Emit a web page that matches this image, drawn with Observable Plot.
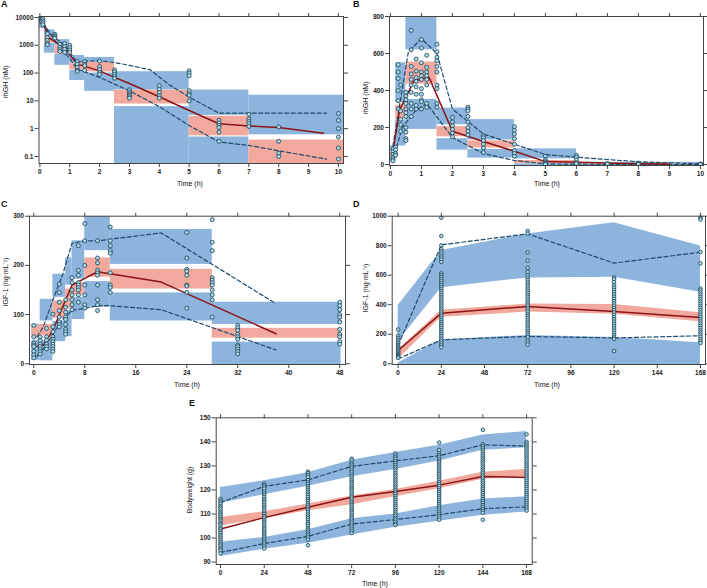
<!DOCTYPE html>
<html><head><meta charset="utf-8">
<script src="https://cdn.jsdelivr.net/npm/d3@7"></script>
<script src="https://cdn.jsdelivr.net/npm/@observablehq/plot@0.6"></script>
<style>
body{margin:0;background:#fff;}
#root{position:relative;width:707px;height:588px;overflow:hidden;font-family:"Liberation Sans",Arial,sans-serif;color:#111;}
.t{position:absolute;font-size:7px;white-space:nowrap;transform:translate(-50%,-50%);}
.r{transform:translate(-50%,-50%) rotate(-90deg);}
.lab{position:absolute;font-size:9px;font-weight:bold;}
</style></head><body><div id="root"></div>
<script>
// ---------- Panel A (rhGH, log) ----------
const aBinStart = [-0.03, 0.15, 0.5, 1.0, 1.5, 2.5, 5, 7];
const aBinEnd   = [0.15, 0.5, 1.0, 1.5, 2.5, 5, 7, 10.17];
const aUb  = [[7500, 11000], [2200, 3600], [1000, 1600], [230, 430], [245, 365], [24.5, 112], [3, 24.5], [0.6, 16]];
const aMed = [[5500, 7500], [1200, 2200], [480, 960], [130, 220], [110, 240], [7.7, 24], [0.55, 2.8], [0.01, 0.39]];
const aLb  = [[4000, 5400], [520, 1150], [190, 470], [54, 125], [22, 100], [0.01, 6.2], [0.01, 0.5], [0.001, 0.002]];
const aP50T = [0.05, 0.3, 0.8, 1.25, 2, 2.5, 3, 4, 5, 6, 7, 8, 9.5];
const aP50V = [8500, 1900, 830, 210, 120, 70, 42, 14, 4.5, 1.5, 1.25, 1.1, 0.68];
const aP95T = [0.05, 0.3, 0.8, 1.25, 1.5, 2, 2.5, 3, 3.7, 4.3, 5, 6, 9.6];
const aP95V = [9500, 2600, 1100, 240, 270, 275, 240, 190, 130, 40, 13.7, 3.6, 3.6];
const aP05T = [0.1, 0.5, 1.0, 1.25, 2, 2.5, 3, 4, 5, 6, 7, 8, 9.6];
const aP05V = [6500, 1500, 330, 140, 70, 40, 23, 6.2, 1.3, 0.33, 0.25, 0.16, 0.08];
const aObsTime = [0.05, 0.1, 0.25, 0.5, 0.67, 0.83, 1, 1.25, 1.5, 2, 2.5, 3, 4, 5, 6, 7, 8, 10];
const aObsVals = [
  [9500, 8800, 8000, 7200], [9000, 7500, 6500, 5500], [2600, 1900, 1500, 1200, 1050],
  [2500, 2200, 2000, 1800], [1100, 850, 700, 600], [1150, 900, 720, 560], [1000, 820, 680, 560],
  [260, 210, 160, 125, 115], [260, 210, 185, 125], [270, 170, 135, 105, 90], [130, 110, 90, 75, 65],
  [25, 21, 18, 16, 14, 12.5], [35, 26, 20, 15, 12.5], [120, 100, 80, 23, 18, 16, 10],
  [2, 1.6, 1.3, 1.1, 0.75, 0.35], [3.3, 2.2, 1.8, 1.5, 1.2], [1.15, 0.35, 0.13, 0.1], [3.5, 2, 1, 0.5, 0.2, 0.08]
];
const aYTicks = [0.1, 1, 10, 100, 1000, 10000];
const aXTicks = [0, 1, 2, 3, 4, 5, 6, 7, 8, 9, 10];

// ---------- Panel B (rhGH, linear) ----------
const bBinStart = [-0.03, 0.17, 0.5, 1.5, 2.5, 4, 6];
const bBinEnd   = [0.17, 0.5, 1.5, 2.5, 4, 6, 10.1];
const bUb  = [[70, 100], [335, 550], [620, 800], [215, 305], [133, 243], [31, 85], [4, 12]];
const bMed = [[40, 65], [245, 320], [435, 554], [150, 205], [90, 128], [5, 22], [0.5, 3]];
const bLb  = [[15, 38], [100, 240], [190, 352], [78, 140], [35, 82], [-5, 4], [-5, 0]];
const bP50T = [0.08, 0.3, 0.58, 0.75, 1.05, 1.25, 2, 3, 4, 5, 6, 7, 8, 9];
const bP50V = [70, 298, 390, 450, 465, 470, 180, 125, 72, 16, 13, 8, 5, 3];
const bP95T = [0.08, 0.58, 1.0, 1.25, 1.5, 2, 3, 4, 5, 6, 8, 10];
const bP95V = [100, 610, 680, 640, 600, 300, 165, 110, 54, 40, 15, 4];
const bP05T = [0.08, 0.38, 0.8, 1.17, 2, 3, 4, 5, 6, 8, 10];
const bP05V = [25, 200, 290, 330, 146, 60, 22, 4, 2, 1, 0];
const bObsTime = [0.083, 0.167, 0.25, 0.33, 0.5, 0.67, 0.83, 1, 1.17, 1.5, 2, 2.5, 3, 4, 5, 6, 7, 8, 10];
const bObsVals = [
  [85, 70, 55, 40, 30, 20], [95, 80, 60, 50], [540, 500, 465, 400, 345, 300], [430, 290, 245, 215, 180],
  [390, 370, 350, 330, 300, 280, 260, 200, 175, 140, 130], [725, 620, 530, 490, 460, 430, 390, 330, 300, 260],
  [570, 505, 470, 450, 420, 380, 320, 300], [675, 630, 550, 500, 480, 460, 410, 380, 350, 340, 300],
  [590, 525, 500, 480, 460, 430, 330, 310], [650, 610, 580, 560, 530, 500, 430, 410, 330, 310],
  [255, 230, 210, 190, 170, 150], [310, 300, 290, 260, 230, 200, 180, 160], [155, 145, 130, 110, 90, 65],
  [205, 185, 165, 140, 110, 75, 60, 45], [45, 25, 15, 10, 5, 2], [50, 40, 25, 10, 5], [6, 3], [8, 5, 2], [3, 1]
];
const bYTicks = [0, 200, 400, 600, 800];
const bXTicks = [0, 1, 2, 3, 4, 5, 6, 7, 8, 9, 10];

// ---------- Panel C (IGF-1, 48 h) ----------
const cBinStart = [-0.3, 1, 3, 5, 6, 8, 12, 28];
const cBinEnd   = [1, 3, 5, 6, 8, 12, 28, 48.2];
const cUb  = [[60, 80], [87, 131], [135, 182], [160, 215], [172, 250], [230, 300], [202, 273], [80, 125]];
const cMed = [[52, 78], [57, 80], [92, 128], [112, 152], [140, 165], [176, 215], [152, 192], [52, 72]];
const cLb  = [[7, 48], [6, 47], [45, 86], [55, 108], [90, 135], [115, 167], [87, 144], [-2, 44]];
const cP50T = [0.5, 1.5, 3, 4.5, 6, 10, 20, 38];
const cP50V = [35, 38, 68, 115, 160, 187, 166, 61];
const cP95T = [0.5, 1.5, 3, 4.5, 6, 8, 10, 20, 38];
const cP95V = [55, 75, 130, 180, 245, 250, 250, 266, 122];
const cP05T = [0.5, 1.5, 3, 4.5, 6, 10, 12, 20, 38];
const cP05V = [15, 30, 60, 90, 108, 118, 118, 110, 28];
const cObsTime = [0, 1, 2, 3, 4, 5, 6, 7, 8, 10, 12, 24, 28, 32, 48];
const cObsVals = [
  [78, 55, 42, 38, 35, 25, 18, 12], [54, 47, 40, 35, 30, 25, 20], [72, 55, 48, 40, 35, 30],
  [101, 75, 65, 55, 50, 45, 40, 35, 30, 25], [162, 145, 125, 108, 95, 85, 80, 75],
  [130, 115, 105, 95, 90, 80, 70, 65, 60], [175, 165, 150, 140, 130, 120, 110],
  [240, 190, 180, 165, 160, 155, 150, 140, 125], [285, 250, 200, 160, 140, 120, 113],
  [250, 215, 205, 190, 185, 180, 160, 130, 120, 108], [278, 250, 240, 230, 225, 185, 160, 155, 145],
  [267, 215, 192, 188, 180, 160, 158, 145, 113], [293, 247, 230, 175, 170, 165, 160, 150, 140, 130, 95],
  [78, 73, 68, 60, 55, 50, 38, 35, 30, 25, 20], [125, 118, 110, 100, 95, 85, 70, 60, 55, 45, 40]
];
const cYTicks = [0, 100, 200, 300];
const cXTicks = [0, 8, 16, 24, 32, 40, 48];

// ---------- Panel D (IGF-1, 168 h) ----------
const dT = [0, 24, 72, 120, 168];
const dUbLo = [150, 515, 582, 587, 485];
const dUbHi = [395, 767, 880, 955, 798];
const dMedLo = [30, 315, 350, 335, 285];
const dMedHi = [95, 362, 405, 402, 345];
const dLbLo = [-10, -10, -10, -10, -10];
const dLbHi = [5, 162, 192, 178, 142];
const dP50 = [90, 343, 388, 354, 313];
const dP95 = [125, 806, 880, 682, 756];
const dP05 = [33, 162, 185, 175, 190];
const dObsVals = [
  [232, 190, 176, 162, 150, 138, 126, 117, 108, 99, 90, 82, 74, 66, 58, 52, 46, 40],
  [990, 866, 802, 778, 762, 748, 733, 720, 706, 690, 612, 600, 588, 575, 562, 548, 534, 521, 508, 494, 481, 467, 454, 441, 427, 414, 401, 388, 374, 361, 348, 335, 322, 308, 295, 282, 269, 256, 243, 229, 216, 203, 190, 177, 164, 151, 138, 125, 112],
  [900, 882, 755, 700, 650, 622, 598, 582, 567, 553, 538, 524, 509, 495, 481, 466, 452, 438, 423, 409, 395, 380, 366, 352, 337, 323, 309, 294, 280, 266, 251, 237, 222, 208, 194, 180, 160, 145, 130],
  [585, 575, 553, 532, 516, 501, 486, 470, 455, 440, 424, 409, 394, 378, 363, 348, 332, 317, 302, 286, 271, 256, 240, 225, 210, 194, 179, 168, 86],
  [997, 987, 977, 757, 680, 510, 497, 482, 467, 452, 437, 422, 407, 392, 377, 362, 347, 332, 317, 302, 287, 272, 257, 242, 227, 212, 197, 182, 167, 152, 140]
];
const dYTicks = [0, 200, 400, 600, 800, 1000];
const dXTicks = [0, 24, 48, 72, 96, 120, 144, 168];

// ---------- Panel E (Bodyweight) ----------
const eT = [0, 24, 48, 72, 96, 120, 144, 168];
const eUbLo = [114.5, 118, 121.5, 125.5, 128.5, 132, 136.5, 137.5];
const eUbHi = [121, 123.8, 127.2, 132.3, 135.6, 138.6, 142.8, 144.3];
const eMedLo = [105, 108, 111.3, 113.8, 117.2, 120.5, 124.5, 125.3];
const eMedHi = [108.5, 110.9, 114.2, 117.5, 120.2, 123.6, 127.4, 128.5];
const eLbLo = [92.3, 95.3, 97.8, 101.3, 104.5, 107, 109.5, 110.8];
const eLbHi = [98.3, 100.2, 103.5, 108, 110, 113.4, 116.2, 117.2];
const eP95 = [114.8, 121.5, 124.2, 129.8, 132.1, 134.2, 138.8, 138.2];
const eP50 = [103.8, 108.5, 112.8, 117, 119.4, 122, 125.6, 125.2];
const eP05 = [94, 97.7, 100.7, 105.8, 107.7, 109.7, 112.2, 113];
const eObsVals = [
  [116.3, 115.6, 114.9, 114.1, 113.2, 112.6, 111.8, 110.9, 110.2, 109.5, 108.7, 107.9, 107.3, 106.4, 105.8, 105.1, 104.2, 103.6, 102.8, 102.1, 101.3, 100.6, 99.9, 99.1, 98.3, 97.6, 96.9, 96.1, 95.4, 94.8, 93.6],
  [122.6, 122.0, 121.3, 120.5, 119.4, 118.6, 117.9, 117.1, 116.2, 115.4, 114.7, 113.8, 113.0, 112.3, 111.5, 110.6, 109.9, 109.1, 108.4, 107.5, 106.8, 106.0, 105.2, 104.3, 103.6, 102.8, 102.0, 101.3, 100.5, 99.7, 98.9, 98.2, 97.4, 96.5, 95.6],
  [127.6, 127.0, 126.2, 125.4, 124.1, 123.3, 122.5, 121.6, 120.9, 120.1, 119.3, 118.5, 117.8, 117.0, 116.1, 115.4, 114.6, 113.8, 113.0, 112.2, 111.5, 110.7, 109.8, 109.0, 108.3, 107.5, 106.6, 105.9, 105.1, 104.2, 103.5, 102.7, 101.9, 101.2, 100.3, 99.4, 97.0],
  [133.0, 132.3, 131.2, 130.5, 129.7, 128.9, 128.1, 127.3, 126.4, 125.7, 124.9, 124.0, 123.3, 122.5, 121.6, 120.8, 120.1, 119.3, 118.4, 117.6, 116.9, 116.1, 115.2, 114.4, 113.7, 112.9, 112.0, 111.2, 110.5, 109.6, 108.8, 108.1, 107.3, 106.5, 105.6, 104.8, 103.9, 103.0, 102.1],
  [135.2, 134.4, 133.6, 132.9, 132.0, 131.2, 130.4, 129.6, 128.8, 128.0, 127.1, 126.3, 125.6, 124.7, 123.9, 123.1, 122.3, 121.5, 120.7, 119.8, 119.0, 118.3, 117.4, 116.6, 115.8, 115.0, 114.1, 113.4, 112.6, 111.7, 110.9, 110.1, 109.3, 108.4, 107.7, 106.8, 106.0, 105.4],
  [139.7, 136.6, 135.3, 134.5, 133.8, 132.9, 132.1, 131.4, 130.5, 129.7, 128.9, 128.0, 127.2, 126.5, 125.6, 124.8, 124.0, 123.2, 122.4, 121.6, 120.7, 119.9, 119.1, 118.3, 117.5, 116.7, 115.8, 115.0, 114.2, 113.4, 112.6, 111.8, 110.9, 110.1, 109.3, 108.5, 107.6],
  [145.0, 139.0, 138.3, 137.5, 136.7, 135.9, 135.0, 134.2, 133.4, 132.6, 131.8, 131.0, 130.1, 129.3, 128.5, 127.7, 126.9, 126.0, 125.2, 124.4, 123.6, 122.8, 121.9, 121.1, 120.3, 119.5, 118.7, 117.8, 117.0, 116.2, 115.4, 114.6, 113.7, 112.9, 112.1, 111.3, 110.5, 107.6],
  [143.1, 140.0, 139.2, 138.4, 137.6, 136.8, 135.9, 135.1, 134.3, 133.5, 132.7, 131.8, 131.0, 130.2, 129.4, 128.6, 127.7, 126.9, 126.1, 125.3, 124.5, 123.6, 122.8, 122.0, 121.2, 120.4, 119.5, 118.7, 117.9, 117.1, 116.3, 115.4, 114.6, 113.8, 113.0, 112.2, 111.4]
];
const eYTicks = [90, 100, 110, 120, 130, 140, 150];
const eXTicks = [0, 24, 48, 72, 96, 120, 144, 168];

// ---------- styling ----------
const BLUE = "#8db4dc", RED = "#f0a99c", MEDLINE = "#8b1414", DASH = "#1d4b6c";
const DOTFILL = "#a8dcea", DOTSTROKE = "#1b3c52";
const root = document.getElementById("root");

const pts = (ts, vs) => ts.map((t, i) => ({t, v: vs[i]}));
const obs = (ts, vals) => ts.flatMap((t, i) => vals[i].map(v => ({t, v})));

function binMarks(starts, ends, ub, med, lb) {
  const rows = starts.map((s, i) => ({s, e: ends[i], ub0: ub[i][0], ub1: ub[i][1], m0: med[i][0], m1: med[i][1], l0: lb[i][0], l1: lb[i][1]}));
  return [
    Plot.rect(rows, {x1: "s", x2: "e", y1: "ub0", y2: "ub1", fill: BLUE, clip: true}),
    Plot.rect(rows, {x1: "s", x2: "e", y1: "l0", y2: "l1", fill: BLUE, clip: true}),
    Plot.rect(rows, {x1: "s", x2: "e", y1: "m0", y2: "m1", fill: RED, clip: true})
  ];
}
function bandMarks(ts, ubLo, ubHi, mLo, mHi, lLo, lHi) {
  const rows = ts.map((t, i) => ({t, a: ubLo[i], b: ubHi[i], c: mLo[i], d: mHi[i], e: lLo[i], f: lHi[i]}));
  return [
    Plot.areaY(rows, {x: "t", y1: "a", y2: "b", fill: BLUE, clip: true}),
    Plot.areaY(rows, {x: "t", y1: "e", y2: "f", fill: BLUE, clip: true}),
    Plot.areaY(rows, {x: "t", y1: "c", y2: "d", fill: RED, clip: true})
  ];
}
function lineMarks(p95, p50, p05) {
  return [
    Plot.line(p95, {x: "t", y: "v", stroke: DASH, strokeWidth: 1.2, strokeDasharray: "4,2.5", clip: true}),
    Plot.line(p05, {x: "t", y: "v", stroke: DASH, strokeWidth: 1.2, strokeDasharray: "4,2.5", clip: true}),
    Plot.line(p50, {x: "t", y: "v", stroke: MEDLINE, strokeWidth: 1.5, clip: true})
  ];
}
function dotMark(data, r) {
  return Plot.dot(data, {x: "t", y: "v", r, fill: DOTFILL, stroke: DOTSTROKE, strokeWidth: 0.8, clip: true});
}

function panel(c) {
  const svg = Plot.plot({
    width: c.width, height: c.height,
    marginTop: c.mt, marginRight: c.mr, marginBottom: c.mb, marginLeft: c.ml,
    x: {domain: c.xDomain, label: null},
    y: {domain: c.yDomain, type: c.yType || "linear", label: null},
    style: {fontFamily: "'Liberation Sans', Arial, sans-serif", fontSize: "6.5px", fontWeight: "bold", color: "#222", background: "transparent", overflow: "visible"},
    marks: [
      ...c.marks,
      Plot.frame({stroke: "#444", strokeWidth: 1}),
      Plot.axisX({anchor: "bottom", ticks: c.xTicks, tickSize: 4, tickPadding: 1.5, label: null, stroke: "#444"}),
      Plot.axisX({anchor: "top", ticks: c.xTicks, tickSize: 4, tickFormat: () => "", label: null, stroke: "#444"}),
      Plot.axisY({anchor: "left", ticks: c.yTicks, tickSize: 4, tickPadding: 1.5, tickFormat: c.yFmt || (d => String(d)), label: null, stroke: "#444"}),
      Plot.axisY({anchor: "right", ticks: c.yTicks, tickSize: 4, tickFormat: () => "", label: null, stroke: "#444"})
    ]
  });
  svg.style.position = "absolute";
  svg.style.left = c.left + "px";
  svg.style.top = c.top + "px";
  root.appendChild(svg);
}
function text(str, x, y, cls) {
  const d = document.createElement("div");
  d.className = cls; d.textContent = str;
  d.style.left = x + "px"; d.style.top = y + "px";
  root.appendChild(d);
}
function letter(str, x, y) {
  const d = document.createElement("div");
  d.className = "lab"; d.textContent = str;
  d.style.left = x + "px"; d.style.top = y + "px";
  root.appendChild(d);
}

// A
panel({left: 0, top: 0, width: 350, height: 190, mt: 16, mr: 7, mb: 27, ml: 38.5,
  xDomain: [-0.03, 10.17], yDomain: [0.0557, 10860], yType: "log", xTicks: aXTicks, yTicks: aYTicks,
  marks: [...binMarks(aBinStart, aBinEnd, aUb, aMed, aLb),
    ...lineMarks(pts(aP95T, aP95V), pts(aP50T, aP50V), pts(aP05T, aP05V)),
    dotMark(obs(aObsTime, aObsVals), 2)]});
// B
panel({left: 350, top: 0, width: 357, height: 190, mt: 16, mr: 4, mb: 25, ml: 39,
  xDomain: [-0.03, 10.1], yDomain: [-5, 800], xTicks: bXTicks, yTicks: bYTicks,
  marks: [...binMarks(bBinStart, bBinEnd, bUb, bMed, bLb),
    ...lineMarks(pts(bP95T, bP95V), pts(bP50T, bP50V), pts(bP05T, bP05V)),
    dotMark(obs(bObsTime, bObsVals), 2)]});
// C
panel({left: 0, top: 195, width: 350, height: 195, mt: 20.7, mr: 5, mb: 26, ml: 29,
  xDomain: [-0.67, 48.9], yDomain: [-1.5, 300], xTicks: cXTicks, yTicks: cYTicks,
  marks: [...binMarks(cBinStart, cBinEnd, cUb, cMed, cLb),
    ...lineMarks(pts(cP95T, cP95V), pts(cP50T, cP50V), pts(cP05T, cP05V)),
    dotMark(obs(cObsTime, cObsVals), 2)]});
// D
panel({left: 350, top: 195, width: 357, height: 195, mt: 20.7, mr: 2, mb: 26, ml: 41.7,
  xDomain: [-3.3, 170.8], yDomain: [-5, 1000], xTicks: dXTicks, yTicks: dYTicks,
  marks: [...bandMarks(dT, dUbLo, dUbHi, dMedLo, dMedHi, dLbLo, dLbHi),
    ...lineMarks(pts(dT, dP95), pts(dT, dP50), pts(dT, dP05)),
    dotMark(obs(dT, dObsVals), 1.8)]});
// E
panel({left: 160, top: 390, width: 400, height: 198, mt: 27.3, mr: 28.3, mb: 24, ml: 55.7,
  xDomain: [-2.36, 171.1], yDomain: [89, 150], xTicks: eXTicks, yTicks: eYTicks,
  marks: [...bandMarks(eT, eUbLo, eUbHi, eMedLo, eMedHi, eLbLo, eLbHi),
    ...lineMarks(pts(eT, eP95), pts(eT, eP50), pts(eT, eP05)),
    dotMark(obs(eT, eObsVals), 1.8)]});

// titles
text("Time (h)", 190, 183, "t");
text("Time (h)", 547, 183, "t");
text("Time (h)", 187, 384, "t");
text("Time (h)", 547, 384, "t");
text("Time (h)", 375, 583, "t");
text("rhGH (nM)", 5, 82, "t r");
text("rhGH (nM)", 365, 98, "t r");
text("IGF-1 (ng·mL⁻¹)", 5, 282, "t r");
text("IGF-1 (ng·mL⁻¹)", 365, 288, "t r");
text("Bodyweight (g)", 189, 490, "t r");
letter("A", 1, -1);
letter("B", 353, -1);
letter("C", 1, 199);
letter("D", 353, 199);
letter("E", 189, 398);
</script></body></html>
